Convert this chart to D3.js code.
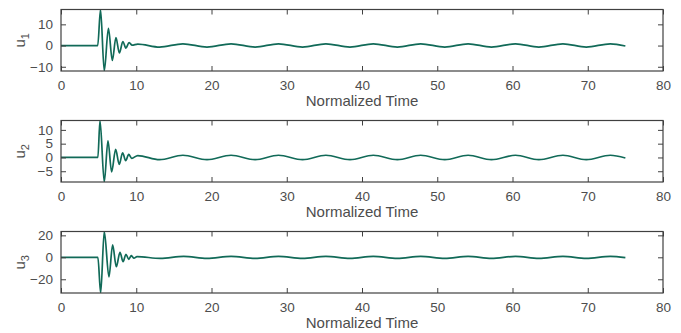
<!DOCTYPE html>
<html>
<head>
<meta charset="utf-8">
<script src="https://cdn.jsdelivr.net/npm/d3@7"></script>
<style>
  body { margin: 0; background: #fff; }
  text { font-family: "Liberation Sans", Arial, sans-serif; }
</style>
</head>
<body>
<div id="container"></div>
<script>
// x axis ticks (shared)
const xTicks = [0, 10, 20, 30, 40, 50, 60, 70, 80];

// u1: extrema
const t1 = [0, 4.88, 5.25, 5.75, 6.3, 6.82, 7.3, 7.76, 8.22, 8.62, 9.05, 9.45, 10.2,
  13.1, 16.2, 19.4, 22.6, 25.8, 28.9, 32.1, 35.2, 38.4, 41.5, 44.7, 47.8,
  51.0, 54.1, 57.2, 60.4, 63.5, 66.7, 69.8, 73.0, 75.0];
const u1 = [0, 0, 17, -12, 8.1, -7, 3.7, -3.5, 1.9, -1.2, 1.4, 0.2, 0.7,
  -0.7, 0.8, -0.7, 0.8, -0.7, 0.8, -0.7, 0.8, -0.7, 0.8, -0.7, 0.8,
  -0.7, 0.8, -0.7, 0.8, -0.7, 0.8, -0.7, 0.8, -0.2];

// u2
const t2 = [0, 4.9, 5.18, 5.75, 6.24, 6.73, 7.26, 7.74, 8.19, 8.6, 9.0, 9.4, 10.2,
  13.1, 16.2, 19.4, 22.6, 25.8, 28.9, 32.1, 35.2, 38.4, 41.5, 44.7, 47.8,
  51.0, 54.1, 57.2, 60.4, 63.5, 66.7, 69.8, 73.0, 75.0];
const u2 = [0, 0, 13.4, -8.9, 6.0, -5.2, 2.9, -2.5, 1.7, -1.2, 1.1, -0.3, 0.7,
  -0.8, 0.8, -0.8, 0.8, -0.8, 0.8, -0.8, 0.8, -0.8, 0.8, -0.8, 0.8,
  -0.8, 0.8, -0.8, 0.8, -0.8, 0.8, -0.8, 0.8, -0.2];

// u3
const t3 = [0, 4.9, 5.27, 5.75, 6.37, 6.86, 7.35, 7.84, 8.25, 8.63, 9.0, 9.35, 9.7, 10.1,
  13.2, 16.3, 19.4, 22.6, 25.8, 28.9, 32.1, 35.2, 38.4, 41.5, 44.7, 47.8,
  51.0, 54.1, 57.2, 60.4, 63.5, 66.7, 69.8, 73.0, 75.0];
const u3 = [0, 0, -32.5, 23.5, -17.8, 11.3, -8.6, 4.6, -4, 2.7, -1.8, 1.5, -0.8, 0.6,
  -1.0, 0.9, -1.0, 0.9, -1.0, 0.9, -1.0, 0.9, -1.0, 0.9, -1.0, 0.9,
  -1.0, 0.9, -1.0, 0.9, -1.0, 0.9, -1.0, 0.9, -0.3];

const yDomains = [[-12, 17], [-8.9, 13.4], [-32.5, 23.5]];
const yTicks = [[-10, 0, 10], [-5, 0, 5, 10], [-20, 0, 20]];
const subs = ["1", "2", "3"];
const xLabel = "Normalized Time";

const W = 681, H = 333;
const left = 61, plotW = 602, plotH = 61.5;
const tops = [9.5, 120.5, 231.5];
const axisColor = "#404040";
const textColor = "#4d4d4d";
const lineColor = "#116a58";

const svg = d3.select("#container").append("svg")
  .attr("width", W)
  .attr("height", H);

const series = [[t1, u1], [t2, u2], [t3, u3]];

series.forEach(([ts, us], i) => {
  const top = tops[i];
  const x = d3.scaleLinear().domain([0, 80]).range([left, left + plotW]);
  const y = d3.scaleLinear().domain(yDomains[i]).range([top + plotH, top]);

  const g = svg.append("g");

  // clip so the spikes stay in the box
  const clipId = "clip" + i;
  svg.append("clipPath").attr("id", clipId)
    .append("rect")
    .attr("x", left).attr("y", top)
    .attr("width", plotW).attr("height", plotH);

  const pts = ts.map((t, k) => [t, us[k]]);
  const line = d3.line()
    .x(d => x(d[0]))
    .y(d => y(d[1]))
    .curve(d3.curveMonotoneX);

  g.append("path")
    .datum(pts)
    .attr("clip-path", `url(#${clipId})`)
    .attr("fill", "none")
    .attr("stroke", lineColor)
    .attr("stroke-width", 1.7)
    .attr("stroke-linejoin", "round")
    .attr("d", line);

  // bottom axis
  const bottom = g.append("g")
    .attr("transform", `translate(0,${top + plotH})`)
    .call(d3.axisBottom(x).tickValues(xTicks).tickSize(-5).tickPadding(9).tickFormat(d3.format("d")));
  // top axis (ticks only)
  const topAx = g.append("g")
    .attr("transform", `translate(0,${top})`)
    .call(d3.axisTop(x).tickValues(xTicks).tickSize(-5).tickFormat(""));
  // left axis
  const leftAx = g.append("g")
    .attr("transform", `translate(${left},0)`)
    .call(d3.axisLeft(y).tickValues(yTicks[i]).tickSize(-5).tickPadding(8).tickFormat(d3.format("d")));
  // right axis (ticks only)
  const rightAx = g.append("g")
    .attr("transform", `translate(${left + plotW},0)`)
    .call(d3.axisRight(y).tickValues(yTicks[i]).tickSize(-5).tickFormat(""));

  [bottom, topAx, leftAx, rightAx].forEach(a => {
    a.select(".domain").remove();
    a.selectAll("line").attr("stroke", axisColor);
    a.selectAll("text")
      .attr("fill", textColor)
      .style("font-size", "13.5px")
      .style("font-family", '"Liberation Sans", Arial, sans-serif');
  });

  // box
  g.append("rect")
    .attr("x", left).attr("y", top)
    .attr("width", plotW).attr("height", plotH)
    .attr("fill", "none")
    .attr("stroke", axisColor)
    .attr("stroke-width", 1.2);

  // x label
  g.append("text")
    .attr("x", left + plotW / 2)
    .attr("y", top + plotH + 35)
    .attr("text-anchor", "middle")
    .attr("fill", textColor)
    .style("font-size", "15px")
    .text(xLabel);

  // y label u with subscript
  const yl = g.append("text")
    .attr("transform", `translate(25,${top + plotH / 2}) rotate(-90)`)
    .attr("text-anchor", "middle")
    .attr("fill", textColor)
    .style("font-size", "15px");
  yl.append("tspan").text("u");
  yl.append("tspan")
    .attr("dy", 4)
    .style("font-size", "11px")
    .text(subs[i]);
});
</script>
</body>
</html>
